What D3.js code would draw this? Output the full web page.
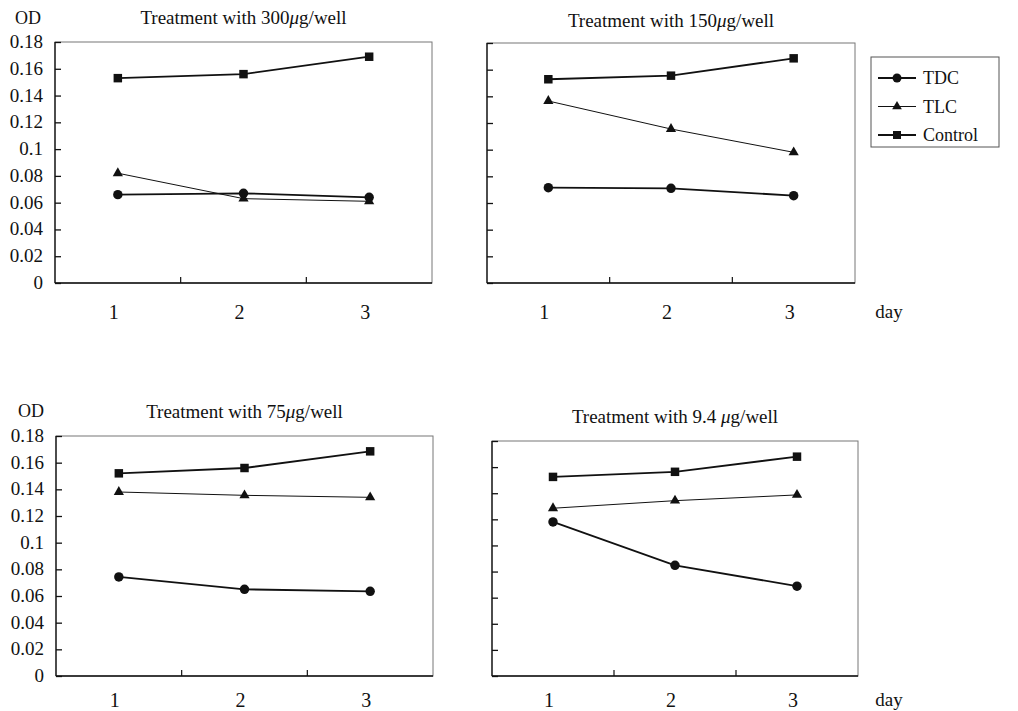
<!DOCTYPE html>
<html>
<head>
<meta charset="utf-8">
<script src="https://d3js.org/d3.v7.min.js"></script>
<style>
  body { margin: 0; background: #fff; }
  svg text { font-family: "Liberation Serif", "DejaVu Serif", serif; fill: #111; }
  .frame { fill: none; stroke: #777; stroke-width: 1; }
  .axis path, .axis line { stroke: #111; stroke-width: 1.3; }
</style>
</head>
<body>
<div id="chart"></div>
<script>
// data (OD per day)
const days = [1, 2, 3];
const yTicks = [0, 0.02, 0.04, 0.06, 0.08, 0.1, 0.12, 0.14, 0.16, 0.18];
const series = ["TDC", "TLC", "Control"];
const doses = ["300", "150", "75", "9.4 "];

const tdc300 = [0.066, 0.067, 0.064];
const tlc300 = [0.082, 0.063, 0.061];
const ctl300 = [0.153, 0.156, 0.169];

const tdc150 = [0.0715, 0.071, 0.0655];
const tlc150 = [0.1365, 0.1155, 0.098];
const ctl150 = [0.1528, 0.1555, 0.1685];

const tdc75 = [0.0743, 0.065, 0.0635];
const tlc75 = [0.138, 0.1355, 0.134];
const ctl75 = [0.152, 0.156, 0.1685];

const tdc94 = [0.118, 0.0848, 0.0688];
const tlc94 = [0.1285, 0.1343, 0.1387];
const ctl94 = [0.1525, 0.1564, 0.168];

const panelData = [
  [tdc300, tlc300, ctl300],
  [tdc150, tlc150, ctl150],
  [tdc75, tlc75, ctl75],
  [tdc94, tlc94, ctl94]
];

// layout of the four boxes
const panels = [
  {x0: 55, x1: 432, y0: 42, y1: 283, labels: true, titleY: 24, odY: 24, tickY: 319},
  {x0: 487, x1: 855, y0: 43, y1: 283, labels: false, titleY: 27, tickY: 319},
  {x0: 56, x1: 433, y0: 436, y1: 676, labels: true, titleY: 418, odY: 417, tickY: 707},
  {x0: 492, x1: 858, y0: 441, y1: 676, labels: false, titleY: 423, tickY: 707}
];

const serif = "'Liberation Serif', 'DejaVu Serif', serif";

const width = 1018, height = 711;
const svg = d3.select("#chart").append("svg")
    .attr("width", width)
    .attr("height", height);

function label(sel, size) {
  return sel.style("font-family", serif).style("font-size", size + "px").attr("fill", "#111");
}

const style = {
  TDC: {shape: d3.symbolCircle, size: 70, lw: 1.8},
  TLC: {shape: d3.symbolTriangle, size: 45, lw: 1},
  Control: {shape: d3.symbolSquare, size: 72, lw: 1.8}
};

panels.forEach(function(p, i) {
  const g = svg.append("g");

  const x = d3.scaleBand().domain(days).range([p.x0, p.x1]);
  const y = d3.scaleLinear().domain([0, 0.18]).range([p.y1, p.y0]);

  // box
  g.append("rect").attr("class", "frame")
      .attr("x", p.x0).attr("y", p.y0)
      .attr("width", p.x1 - p.x0).attr("height", p.y1 - p.y0);

  // y axis, ticks pointing inward
  const ya = g.append("g").attr("class", "axis")
      .attr("transform", "translate(" + p.x0 + ",0)")
      .call(d3.axisRight(y).tickValues(yTicks).tickSize(6).tickFormat(""));
  ya.select(".domain").attr("d", "M0," + p.y0 + "V" + p.y1);

  if (p.labels) {
    label(g.selectAll(".ylab").data(yTicks).enter().append("text")
        .attr("x", p.x0 - 12)
        .attr("y", d => y(d) + 6)
        .attr("text-anchor", "end")
        .text(d => d === 0 ? "0" : String(d)), 19);
    label(g.append("text")
        .attr("x", i === 0 ? 28 : 31).attr("y", p.odY)
        .attr("text-anchor", "middle")
        .text("OD"), 18);
  }

  // x axis: ticks on band boundaries, labels at band centres
  const bounds = [x(2), x(3)];
  g.append("line").attr("x1", p.x0).attr("x2", p.x1)
      .attr("y1", p.y1).attr("y2", p.y1)
      .attr("stroke", "#111").attr("stroke-width", 1.3);
  g.selectAll(".xt").data(bounds).enter().append("line")
      .attr("x1", d => d).attr("x2", d => d)
      .attr("y1", p.y1).attr("y2", p.y1 - 6)
      .attr("stroke", "#111").attr("stroke-width", 1.2);
  label(g.selectAll(".xlab").data(days).enter().append("text")
      .attr("x", d => x(d) + x.bandwidth() / 2 - 4)
      .attr("y", p.tickY)
      .attr("text-anchor", "middle")
      .text(d => d), 20);

  if (!p.labels) {
    label(g.append("text")
        .attr("x", 889).attr("y", p.tickY - 1)
        .attr("text-anchor", "middle")
        .text("day"), 19);
  }

  // title
  const t = label(g.append("text")
      .attr("x", (p.x0 + p.x1) / 2)
      .attr("y", p.titleY)
      .attr("text-anchor", "middle"), 19);
  t.append("tspan").text("Treatment with " + doses[i]);
  t.append("tspan").style("font-style", "italic").text("\u03bc");
  t.append("tspan").text("g/well");

  const line = d3.line()
      .x((d, j) => x(days[j]) + x.bandwidth() / 2)
      .y(d => y(d));

  series.forEach(function(s, k) {
    const vals = panelData[i][k];
    g.append("path").datum(vals)
        .attr("fill", "none")
        .attr("stroke", "#111")
        .attr("stroke-width", style[s].lw)
        .attr("d", line);
    g.selectAll(".m" + k).data(vals).enter().append("path")
        .attr("fill", "#111")
        .attr("transform", (d, j) => "translate(" + (x(days[j]) + x.bandwidth() / 2) + "," + y(d) + ")")
        .attr("d", d3.symbol().type(style[s].shape).size(style[s].size));
  });
});

// legend
const leg = svg.append("g");
leg.append("rect")
    .attr("x", 871).attr("y", 57).attr("width", 128).attr("height", 90)
    .attr("fill", "none").attr("stroke", "#555").attr("stroke-width", 1);
series.forEach(function(s, k) {
  const yy = 78 + k * 28.5;
  leg.append("line").attr("x1", 878).attr("x2", 916)
      .attr("y1", yy).attr("y2", yy)
      .attr("stroke", "#111").attr("stroke-width", style[s].lw);
  leg.append("path")
      .attr("transform", "translate(897," + yy + ")")
      .attr("fill", "#111")
      .attr("d", d3.symbol().type(style[s].shape).size(style[s].size * 0.9));
  label(leg.append("text")
      .attr("x", 923).attr("y", yy + 6)
      .text(s), 18);
});
</script>
</body>
</html>
